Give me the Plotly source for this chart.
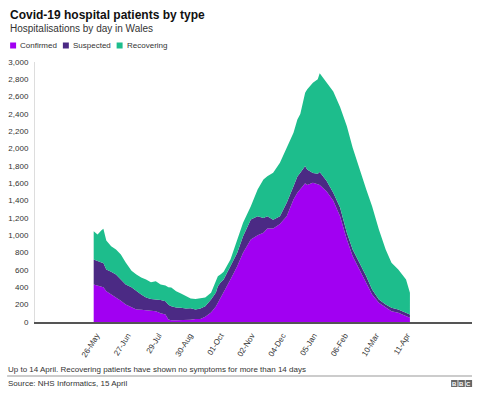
import plotly.graph_objects as go

# ---- data ----
dates = [
    "2020-05-23", "2020-05-27", "2020-05-31", "2020-06-02", "2020-06-05", "2020-06-10",
    "2020-06-15", "2020-06-20", "2020-06-25", "2020-07-01", "2020-07-06", "2020-07-11",
    "2020-07-16", "2020-07-21", "2020-07-26", "2020-07-31", "2020-08-05", "2020-08-08",
    "2020-08-11", "2020-08-16", "2020-08-21", "2020-08-26", "2020-08-31", "2020-09-05",
    "2020-09-10", "2020-09-15", "2020-09-21", "2020-09-26", "2020-09-28", "2020-10-01",
    "2020-10-04", "2020-10-11", "2020-10-18", "2020-10-24", "2020-11-01", "2020-11-08",
    "2020-11-14", "2020-11-18", "2020-11-24", "2020-12-01", "2020-12-08", "2020-12-15",
    "2020-12-19", "2020-12-22", "2020-12-27", "2020-12-29", "2021-01-04", "2021-01-09",
    "2021-01-11", "2021-01-18", "2021-01-25", "2021-02-01", "2021-02-08", "2021-02-14",
    "2021-02-21", "2021-02-28", "2021-03-06", "2021-03-13", "2021-03-20", "2021-03-26",
    "2021-04-02", "2021-04-10", "2021-04-14",
]
confirmed = [
    433, 420, 413, 400, 355, 320,
    283, 245, 202, 170, 144, 140,
    136, 130, 125, 100, 87, 29,
    20, 20, 20, 20, 25, 35,
    35, 60, 110, 180, 221, 280,
    337, 490, 644, 798, 952, 1000,
    1030, 1080, 1080, 1130, 1221, 1414,
    1490, 1529, 1600, 1580, 1606, 1590,
    1580, 1510, 1400, 1221, 952, 760,
    606, 452, 317, 221, 164, 125,
    106, 67, 48,
]
suspected = [
    288, 280, 274, 280, 251, 260,
    265, 245, 231, 230, 211, 177,
    147, 135, 135, 155, 153, 171,
    163, 147, 145, 136, 135, 109,
    120, 123, 150, 160, 192, 180,
    153, 154, 154, 192, 231, 221,
    170, 141, 100, 91, 154, 153,
    190, 193, 200, 180, 114, 120,
    150, 120, 91, 99, 77, 77,
    77, 77, 58, 39, 38, 39,
    38, 39, 39,
]
recovering = [
    327, 310, 373, 395, 334, 295,
    289, 290, 254, 190, 193, 196,
    207, 195, 211, 178, 180, 200,
    215, 188, 165, 142, 110, 121,
    120, 100, 77, 130, 116, 90,
    90, 77, 154, 155, 154, 308,
    444, 462, 542, 616, 635, 616,
    657, 678, 845, 923, 1040, 1090,
    1140, 1130, 1169, 1160, 1231, 1173,
    1077, 1000, 962, 807, 635, 519,
    462, 384, 250,
]
tick_dates = ["2020-05-26", "2020-06-27", "2020-07-29", "2020-08-30", "2020-10-01",
              "2020-11-02", "2020-12-04", "2021-01-05", "2021-02-06", "2021-03-10",
              "2021-04-11"]
tick_labels = ["26-May", "27-Jun", "29-Jul", "30-Aug", "01-Oct", "02-Nov",
               "04-Dec", "05-Jan", "06-Feb", "10-Mar", "11-Apr"]
y_ticks = list(range(0, 3001, 200))
series_names = ["Confirmed", "Suspected", "Recovering"]
colors = ["#a100f2", "#4b2a84", "#1dbd8c"]

# ---- figure ----
W, H = 480, 398
L, R, T, B = 33, 472, 62, 322
FONT = "Liberation Sans, Arial, sans-serif"


def px(x):
    return (x - L) / (R - L)


def py(y):
    return (B - y) / (B - T)


fig = go.Figure()
for name, vals, col in zip(series_names, [confirmed, suspected, recovering], colors):
    fig.add_trace(go.Scatter(
        x=dates, y=vals, name=name, mode="lines", stackgroup="one",
        line=dict(width=0, color=col), fillcolor=col, showlegend=False,
        hoverinfo="x+y+name",
    ))

fig.update_layout(
    width=W, height=H,
    margin=dict(l=L, r=W - R, t=T, b=H - B, pad=0),
    paper_bgcolor="white", plot_bgcolor="white",
    font=dict(family=FONT, size=8, color="#333333"),
    xaxis=dict(
        type="date",
        range=["2020-03-23 12:00", "2021-06-17"],
        tickmode="array", tickvals=tick_dates, ticktext=tick_labels,
        tickangle=-58, showgrid=False, zeroline=False,
        showline=True, linecolor="#555555", linewidth=1.5,
        ticks="", tickfont=dict(size=8, color="#333333"),
        ticklabelstandoff=4,
    ),
    yaxis=dict(
        range=[0, 3000], tickmode="array", tickvals=y_ticks,
        tickformat=",d", showgrid=False, zeroline=False,
        showline=True, linecolor="#dddddd", linewidth=1,
        ticks="", tickfont=dict(size=8, color="#333333"),
        ticklabelstandoff=4,
    ),
)

ann = []
ann.append(dict(text="<b>Covid-19 hospital patients by type</b>", x=px(6), y=py(15),
                xanchor="left", yanchor="middle",
                font=dict(size=12, color="#111111")))
ann.append(dict(text="Hospitalisations by day in Wales", x=px(6), y=py(28),
                xanchor="left", yanchor="middle",
                font=dict(size=10, color="#333333")))

shapes = []
legend_x = [8, 61, 115]
for name, col, lx in zip(series_names, colors, legend_x):
    shapes.append(dict(type="rect", xref="paper", yref="paper",
                       x0=px(lx), x1=px(lx + 6), y0=py(48.5), y1=py(42.5),
                       fillcolor=col, line=dict(width=0)))
    ann.append(dict(text=name, x=px(lx + 8), y=py(45.5), xanchor="left",
                    yanchor="middle", font=dict(size=8, color="#333333")))

ann.append(dict(text="Up to 14 April. Recovering patients have shown no symptoms for more than 14 days",
                x=px(4), y=py(369), xanchor="left", yanchor="middle",
                font=dict(size=8, color="#333333")))
ann.append(dict(text="Source: NHS Informatics, 15 April",
                x=px(4), y=py(383), xanchor="left", yanchor="middle",
                font=dict(size=8, color="#333333")))
shapes.append(dict(type="line", xref="paper", yref="paper",
                   x0=px(5), x1=px(472), y0=py(376), y1=py(376),
                   line=dict(color="#999999", width=1)))

# BBC blocks
for i, letter in enumerate(["B", "B", "C"]):
    x0 = 451 + i * 7.3
    shapes.append(dict(type="rect", xref="paper", yref="paper",
                       x0=px(x0), x1=px(x0 + 6.5), y0=py(387), y1=py(380),
                       fillcolor="#666666", line=dict(width=0)))
    ann.append(dict(text="<b>%s</b>" % letter, x=px(x0 + 3.25), y=py(383.5),
                    xanchor="center", yanchor="middle",
                    font=dict(size=6, color="white")))

for a in ann:
    a.update(xref="paper", yref="paper", showarrow=False)
fig.update_layout(annotations=ann, shapes=shapes)

fig.write_html("out.html", config={"displayModeBar": False},
               post_script="document.body.style.margin='0';")
